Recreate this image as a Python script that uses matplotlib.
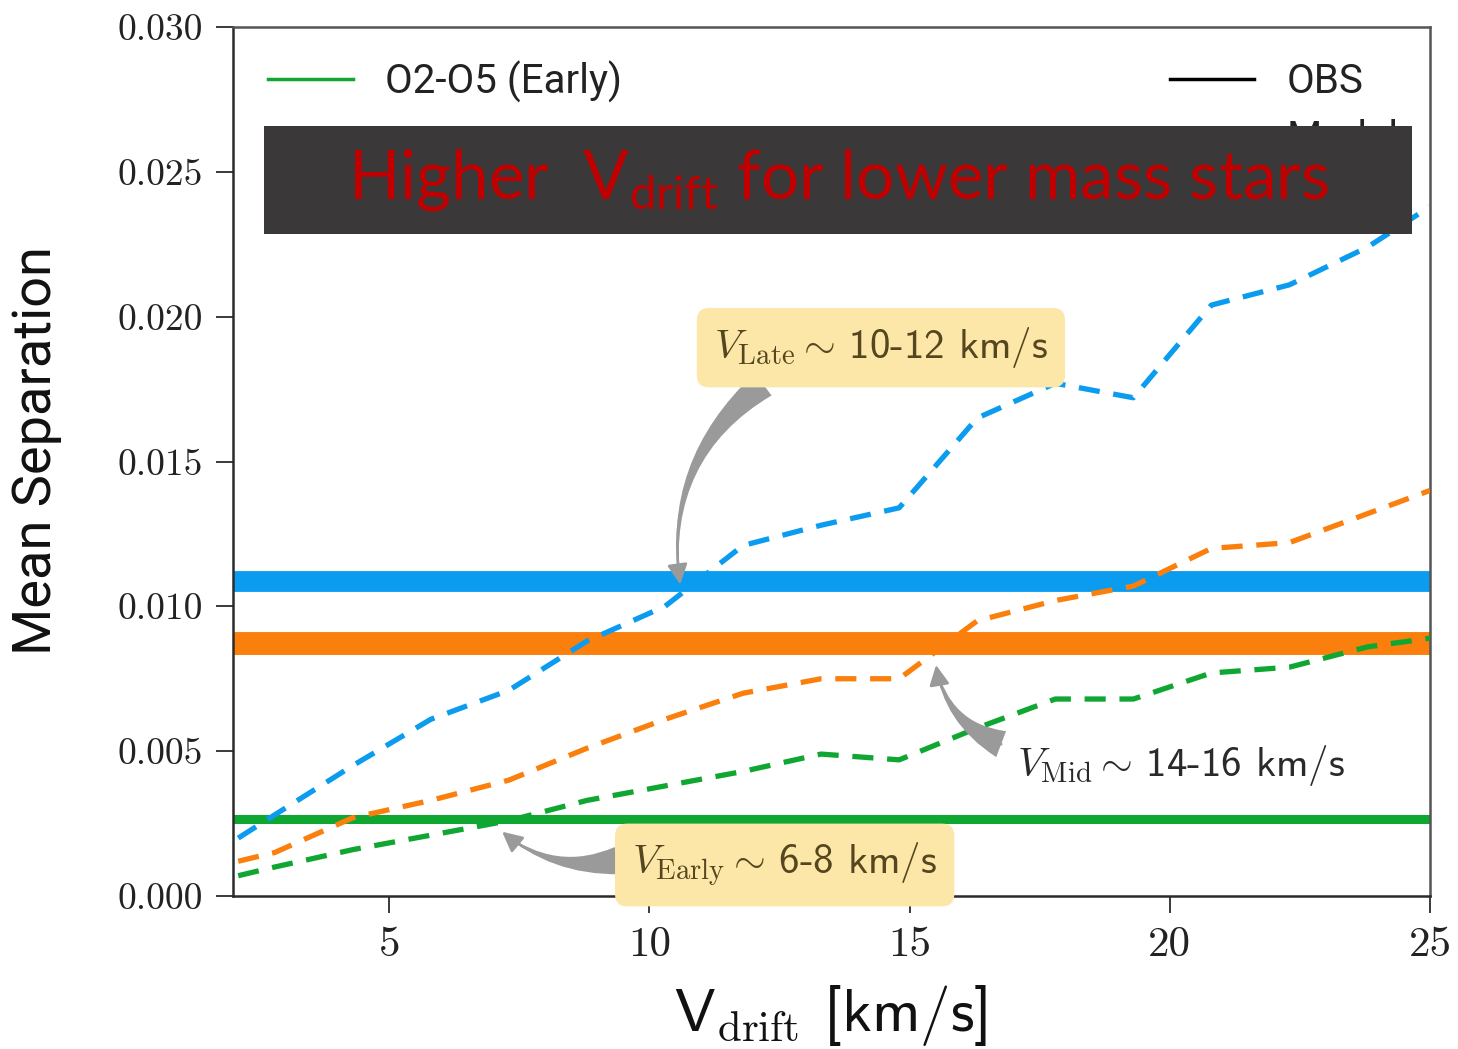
import matplotlib
matplotlib.use('Agg')
import matplotlib.pyplot as plt
from matplotlib.lines import Line2D
from matplotlib.patches import Rectangle, FancyArrowPatch

plt.rcParams['mathtext.fontset'] = 'custom'
plt.rcParams['mathtext.rm'] = 'Lato'
plt.rcParams['mathtext.it'] = 'Lato:italic'

# model curves
vdrift = [2.1, 2.8, 4.3, 5.8, 7.3, 8.8, 10.3, 11.8, 13.3, 14.8,
          16.3, 17.8, 19.3, 20.8, 22.3, 23.8, 25.0]
sep_late = [0.0020, 0.0028, 0.0045, 0.0061, 0.0071, 0.0088, 0.0100, 0.0121, 0.0128,
            0.0134, 0.0165, 0.0177, 0.0172, 0.0204, 0.0211, 0.0224, 0.0238]
sep_mid = [0.0012, 0.0015, 0.0027, 0.0033, 0.0040, 0.0051, 0.0061, 0.0070, 0.0075,
           0.0075, 0.0095, 0.0102, 0.0107, 0.0120, 0.0122, 0.0132, 0.0140]
sep_early = [0.0007, 0.0010, 0.0016, 0.0021, 0.0026, 0.0033, 0.0038, 0.0043, 0.0049,
             0.0047, 0.0058, 0.0068, 0.0068, 0.0077, 0.0079, 0.0086, 0.0089]

# observed mean separations
obs_late = 0.01086
obs_mid = 0.00872
obs_early = 0.00266

blue = '#0b9cf0'
orange = '#fb7f0c'
green = '#10a632'
spine_col = '#2b2b2b'

fig = plt.figure(figsize=(14.58, 10.49), dpi=100)
ax = fig.add_axes([233 / 1458, 1 - 896 / 1049, 1197 / 1458, 869 / 1049])

# observations as thick bands
ax.axhline(obs_late, color=blue, lw=15, zorder=2)
ax.axhline(obs_mid, color=orange, lw=16.5, zorder=2)
ax.axhline(obs_early, color=green, lw=6.5, zorder=2)

# models dashed
for sep, col in [(sep_late, blue), (sep_mid, orange), (sep_early, green)]:
    ax.plot(vdrift, sep, ls='--', dashes=(4, 2.6), color=col, lw=3.8, zorder=3)

ax.set_xlim(2, 25)
ax.set_ylim(0, 0.030)
ax.set_xticks([5, 10, 15, 20, 25])
ax.set_yticks([0.0, 0.005, 0.010, 0.015, 0.020, 0.025, 0.030])
ax.set_yticklabels(['0.000', '0.005', '0.010', '0.015', '0.020', '0.025', '0.030'])

for s in ['top', 'right']:
    ax.spines[s].set_color('#555555')
    ax.spines[s].set_linewidth(1.8)
for s in ['left', 'bottom']:
    ax.spines[s].set_color(spine_col)
    ax.spines[s].set_linewidth(1.8)

ax.tick_params(axis='both', direction='out', length=12, width=1.3, color=spine_col)
ax.tick_params(axis='y', labelsize=27, pad=10)
ax.tick_params(axis='x', labelsize=31, pad=10)
for lab in ax.get_xticklabels() + ax.get_yticklabels():
    lab.set_fontfamily('cmr10')
    lab.set_color('#222222')

ax.set_ylabel('Mean Separation', fontsize=39, family='Roboto', color='#111111')
ax.yaxis.set_label_coords(-0.143, 0.513)
ax.set_xlabel(r'V$_{\rm drift}$ [km/s]', fontsize=44, family='cmss10',
              math_fontfamily='cm', color='#111111')
ax.xaxis.set_label_coords(0.499, -0.100)

# legend, mostly hidden by the banner
handles = [Line2D([], [], color=green, lw=2.5),
           Line2D([], [], color='none'),
           Line2D([], [], color='black', lw=2.5),
           Line2D([], [], color='black', lw=2.5, ls='--')]
labels = ['O2-O5 (Early)', ' ', 'OBS', 'Model']
leg = ax.legend(handles, labels, ncol=2, loc='upper left', bbox_to_anchor=(0.016, 0.98),
                frameon=False, prop={'family': 'Roboto', 'size': 29},
                handlelength=2.1, handletextpad=0.8, columnspacing=13.6,
                labelspacing=0.45, borderaxespad=0)
for t in leg.get_texts():
    t.set_color('#222222')

# banner
ax.add_patch(Rectangle((264 / 1458, 1 - 234 / 1049), 1148 / 1458, 108 / 1049,
                       transform=fig.transFigure, facecolor='#3a3838',
                       edgecolor='none', zorder=10, clip_on=False))
fig.text(838 / 1458, 1 - 180 / 1049, r'Higher  V$_{\mathrm{drift}}$ for lower mass stars',
         color='#c00000', fontsize=48.5, family='Lato', ha='center', va='center',
         zorder=11)

# annotations
box = dict(boxstyle='round,pad=0.42,rounding_size=0.3', facecolor='#fce7a8',
           edgecolor='none')
txt_col = '#54461e'
ax.text(14.45, 0.01893, r'$V_{\rm Late}\sim\,$10-12 km/s', fontsize=29.5, family='cmss10',
        math_fontfamily='cm', color=txt_col, ha='center', va='center', bbox=box, zorder=6)
ax.text(12.6, 0.00107, r'$V_{\rm Early}\sim\,$6-8 km/s', fontsize=29.5, family='cmss10',
        math_fontfamily='cm', color=txt_col, ha='center', va='center', bbox=box, zorder=6)
ax.text(20.21, 0.00452, r'$V_{\rm Mid}\sim\,$14-16 km/s', fontsize=29.5, family='cmss10',
        math_fontfamily='cm', color='#2a2a2a', ha='center', va='center', zorder=6)

arrows = [((12.23, 0.01772), (10.6, 0.01066), 0.3),
          ((16.81, 0.00521), (15.5, 0.00807), -0.3),
          ((9.44, 0.00124), (7.13, 0.00228), -0.25)]
for tail, head, rad in arrows:
    ax.add_patch(FancyArrowPatch(tail, head, arrowstyle='wedge,tail_width=1.0,shrink_factor=0.3',
                                 connectionstyle=f'arc3,rad={rad}', mutation_scale=20,
                                 color='#9a9a9a', lw=0, zorder=5))
    ax.add_patch(FancyArrowPatch(tail, head, arrowstyle='-|>,head_length=0.6,head_width=0.3',
                                 connectionstyle=f'arc3,rad={rad}', mutation_scale=20,
                                 color='#9a9a9a', lw=2, zorder=5))

fig.savefig('out.png', dpi=100)
